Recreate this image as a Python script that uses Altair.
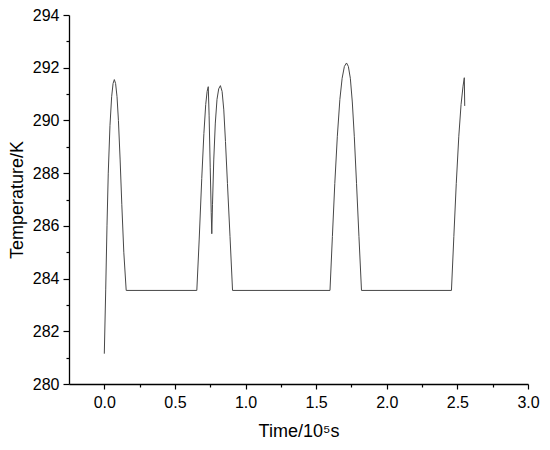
import altair as alt
import pandas as pd

# Time (10^5 s) and temperature (K)
time_vals = [
    0.000, 0.010, 0.019, 0.028, 0.040, 0.052, 0.062, 0.071, 0.080, 0.090,
    0.100, 0.112, 0.124, 0.138, 0.155,
    0.655, 0.672, 0.690, 0.705, 0.718, 0.728, 0.736, 0.742, 0.750, 0.757,
    0.761, 0.766, 0.775, 0.786, 0.798, 0.810, 0.822, 0.834, 0.846, 0.858,
    0.872, 0.890, 0.908,
    1.598, 1.615, 1.632, 1.650, 1.668, 1.684, 1.700, 1.715, 1.728, 1.742,
    1.756, 1.770, 1.786, 1.803, 1.821,
    2.458, 2.475, 2.492, 2.510, 2.526, 2.540, 2.549, 2.552,
]
temp_vals = [
    281.15, 283.6, 286.0, 288.0, 289.8, 290.9, 291.4, 291.55, 291.4, 290.9,
    290.0, 288.5, 286.8, 285.0, 283.55,
    283.55, 285.5, 287.8, 289.5, 290.6, 291.1, 291.28, 290.2, 288.2, 286.5,
    285.7, 286.8, 288.5, 289.9, 290.8, 291.2, 291.32, 291.1, 290.4, 289.2,
    287.6, 285.6, 283.55,
    283.55, 285.6, 287.6, 289.4, 290.8, 291.6, 292.05, 292.18, 292.05, 291.6,
    290.7, 289.4, 287.6, 285.6, 283.55,
    283.55, 285.6, 287.6, 289.4, 290.6, 291.3, 291.62, 290.55,
]

x_ticks = [0.0, 0.25, 0.5, 0.75, 1.0, 1.25, 1.5, 1.75, 2.0, 2.25, 2.5, 2.75, 3.0]
y_ticks = list(range(280, 295))

df = pd.DataFrame({"t": time_vals, "T": temp_vals, "i": range(len(time_vals))})

FONT = "Liberation Sans"

chart = (
    alt.Chart(df)
    .mark_line(color="#474747", strokeWidth=1)
    .encode(
        x=alt.X(
            "t:Q",
            scale=alt.Scale(domain=[-0.25, 3.0], nice=False, zero=False),
            axis=alt.Axis(
                title="Time/10⁵s",
                values=x_ticks,
                labelExpr="datum.value % 0.5 === 0 ? format(datum.value, '.1f') : ''",
                tickSize={"condition": {"test": "datum.value % 0.5 !== 0", "value": 3}, "value": 5},
                grid=False,
            ),
        ),
        y=alt.Y(
            "T:Q",
            scale=alt.Scale(domain=[280, 294], nice=False, zero=False),
            axis=alt.Axis(
                title="Temperature/K",
                values=y_ticks,
                labelExpr="datum.value % 2 === 0 ? format(datum.value, 'd') : ''",
                tickSize={"condition": {"test": "datum.value % 2 !== 0", "value": 3}, "value": 6},
                grid=False,
            ),
        ),
        order="i:Q",
    )
    .properties(
        width=459,
        height=369,
        autosize=alt.AutoSizeParams(type="none"),
        padding={"left": 61, "top": 7, "right": 14, "bottom": 58},
    )
    .configure_view(stroke=None)
    .configure_axis(
        domainColor="black",
        domainWidth=1.3,
        tickColor="black",
        tickWidth=1.2,
        labelFont=FONT,
        labelFontSize=16,
        labelColor="black",
        labelPadding=4,
        titleFont=FONT,
        titleFontSize=18,
        titleFontWeight="normal",
        titleColor="black",
        labelFlush=False,
        labelOverlap=False,
    )
    .configure_axisX(titlePadding=12, labelPadding=5)
    .configure_axisY(titlePadding=6, labelPadding=4)
)

chart.save("out.html", embed_options={"renderer": "svg", "actions": False})
